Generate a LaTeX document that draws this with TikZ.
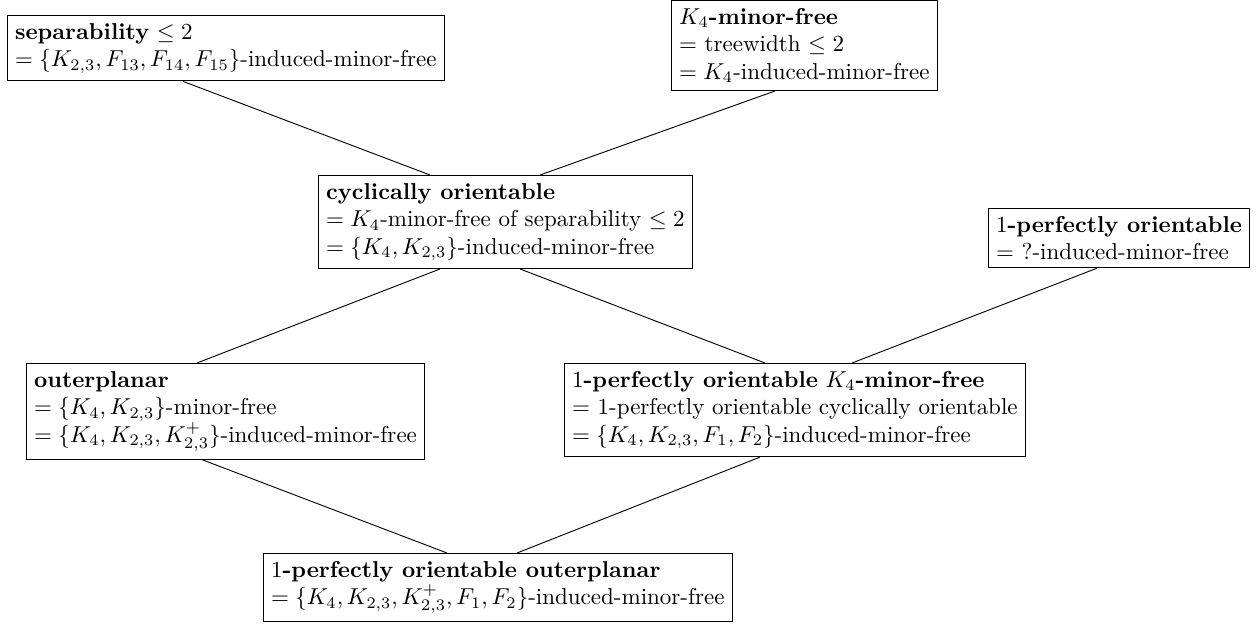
\documentclass[tikz,border=0pt]{standalone}
\usetikzlibrary{calc}
\begin{document}
\begin{tikzpicture}[x=0.4348pt,y=-0.4348pt,
  cls/.style={draw, align=left, anchor=north west, inner sep=3.33pt},
  conn/.style={draw, line width=0.4pt}]
\useasboundingbox (0,0) rectangle (1258,625);
\node[cls] (sep) at (7,15) {\textbf{separability} $\leq 2$\\ $= \{K_{2,3}, F_{13}, F_{14}, F_{15}\}$-induced-minor-free};
\node[cls] (kfour) at (671,0) {$K_4$\textbf{-minor-free}\\ $=$ treewidth $\leq 2$\\ $= K_4$-induced-minor-free};
\node[cls] (cyc) at (318,175) {\textbf{cyclically orientable}\\ $= K_4$-minor-free of separability $\leq 2$\\ $= \{K_4, K_{2,3}\}$-induced-minor-free};
\node[cls] (po) at (988,208) {$1$\textbf{-perfectly orientable}\\ $=$ ?-induced-minor-free};
\node[cls] (outer) at (26,363) {\textbf{outerplanar}\\ $= \{K_4, K_{2,3}\}$-minor-free\\ $= \{K_4, K_{2,3}, K_{2,3}^+\}$-induced-minor-free};
\node[cls] (pokfour) at (564,363) {$1$\textbf{-perfectly orientable} $K_4$\textbf{-minor-free}\\ $=$ 1-perfectly orientable cyclically orientable\\ $= \{K_4, K_{2,3}, F_1, F_2\}$-induced-minor-free};
\node[cls] (poout) at (263,553) {$1$\textbf{-perfectly orientable outerplanar}\\ $= \{K_4, K_{2,3}, K_{2,3}^+, F_1, F_2\}$-induced-minor-free};
\draw[conn] ($(sep.south west)+(176,0)$) -- ($(cyc.north west)+(112,0)$);
\draw[conn] ($(kfour.south west)+(104,0)$) -- ($(cyc.north west)+(222,0)$);
\draw[conn] ($(cyc.south west)+(122,0)$) -- ($(outer.north west)+(171,0)$);
\draw[conn] ($(cyc.south west)+(202,0)$) -- ($(pokfour.north west)+(201,0)$);
\draw[conn] ($(po.south west)+(109,0)$) -- ($(pokfour.north west)+(288,0)$);
\draw[conn] ($(outer.south west)+(176,0)$) -- ($(poout.north west)+(184,0)$);
\draw[conn] ($(pokfour.south west)+(196,0)$) -- ($(poout.north west)+(254,0)$);
\end{tikzpicture}
\end{document}
